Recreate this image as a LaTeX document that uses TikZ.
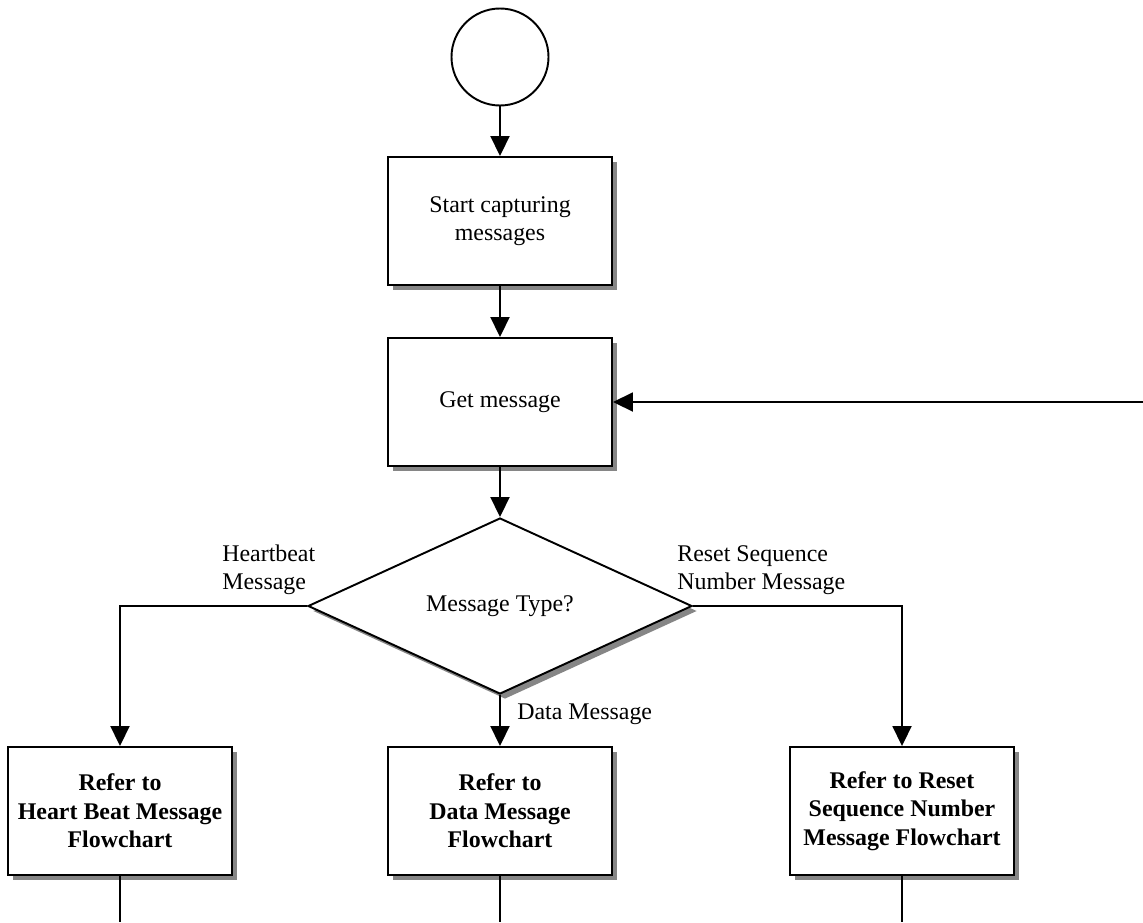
\documentclass[tikz,border=0pt]{standalone}
\usepackage{fontspec}
\setmainfont{Liberation Serif}
\usetikzlibrary{arrows.meta,shapes.geometric,shadows}
\newcommand{\flowsize}{\fontsize{13.6}{16.2}\selectfont}
\tikzset{
  flow/.style={line width=1.1pt,-{Triangle[length=0.4cm,width=0.38cm]}},
  plain/.style={line width=1.1pt},
  shade/.style={drop shadow={shadow xshift=0.1cm,shadow yshift=-0.1cm,fill=gray!95,opacity=1}},
  stepbox/.style={draw,line width=1.1pt,fill=white,shade,minimum width=4.48cm,minimum height=2.56cm,align=center},
  refbox/.style={stepbox,font=\flowsize\bfseries},
  lbl/.style={inner sep=0pt,align=left}
}
\begin{document}
\begin{tikzpicture}[font=\flowsize]
\useasboundingbox (0,0) rectangle (22.86,-18.44);
\node[circle,draw,line width=1.1pt,minimum size=1.94cm] (start) at (10,-1.14) {};
\node[stepbox] (cap) at (10,-4.42) {Start capturing\\messages};
\node[stepbox] (get) at (10,-8.04) {Get message};
\node[diamond,draw,line width=1.1pt,fill=white,shade,minimum width=7.68cm,minimum height=3.52cm,inner sep=0pt] (type) at (10,-12.12) {Message Type?};
\node[refbox] (hb) at (2.4,-16.22) {Refer to\\Heart Beat Message\\Flowchart};
\node[refbox] (data) at (10,-16.22) {Refer to\\Data Message\\Flowchart};
\node[refbox] (reset) at (18.04,-16.22) {Refer to Reset\\Sequence Number\\Message Flowchart};
% labels on the branches
\node[lbl,anchor=south west] (hblbl) at (4.44,-11.9) {Heartbeat\\Message};
\node[lbl,anchor=south west] (resetlbl) at (13.54,-11.9) {Reset Sequence\\Number Message};
\node[lbl,anchor=west] (datalbl) at (10.34,-14.28) {Data Message};
% loose ends
\coordinate (back) at (22.86,-8.04);
\coordinate (hbend) at (2.4,-18.44);
\coordinate (dataend) at (10,-18.44);
\coordinate (resetend) at (18.04,-18.44);
\draw[flow] (start) -- (cap);
\draw[flow] (cap) -- (get);
\draw[flow] (get) -- (type);
\draw[flow] (back) -- (get.east);
\draw[flow] (type.west) -| (hb.north);
\draw[flow] (type.south) -- (data.north);
\draw[flow] (type.east) -| (reset.north);
\draw[plain] (hb) -- (hbend);
\draw[plain] (data) -- (dataend);
\draw[plain] (reset) -- (resetend);
\end{tikzpicture}
\end{document}
